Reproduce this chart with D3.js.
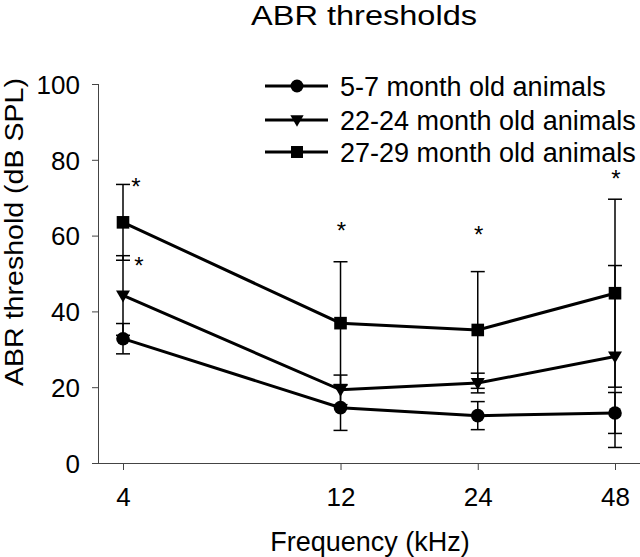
<!DOCTYPE html>
<html>
<head>
<meta charset="utf-8">
<script src="https://cdn.jsdelivr.net/npm/d3@7"></script>
<style>
  html, body { margin: 0; padding: 0; background: #fff; }
  svg { display: block; }
  text { font-family: "Liberation Sans", Arial, Helvetica, sans-serif; fill: #000; }
</style>
</head>
<body>
<svg id="chart" width="640" height="557"></svg>
<script>
// ---- data ----
const frequencies = [4, 12, 24, 48];
const seriesNames = ["5-7 month old animals", "22-24 month old animals", "27-29 month old animals"];
const seriesSymbols = ["circle", "triangle", "square"];
const young = [32.8, 14.6, 12.5, 13.2];
const youngErr = [4.0, 6.0, 3.7, 5.4];
const middle = [44.2, 19.3, 21.1, 28.1];
const middleErr = [10.5, 3.9, 2.6, 24.0];
const old = [63.5, 36.9, 35.1, 44.8];
const oldErr = [10.0, 16.2, 15.4, 24.8];
const yTicks = [0, 20, 40, 60, 80, 100];
const starFreq = [4, 4, 12, 24, 48];
const starValue = [74.0, 53.0, 62.4, 61.3, 75.9];

// ---- layout ----
const svg = d3.select("#chart");
const x = d3.scaleLog().base(2).domain([4, 48]).range([123, 615]);
const y = d3.scaleLinear().domain([0, 100]).range([463, 84]);
const axisColor = "#444";

const series = [
  {name: seriesNames[0], sym: seriesSymbols[0], vals: young, err: youngErr},
  {name: seriesNames[1], sym: seriesSymbols[1], vals: middle, err: middleErr},
  {name: seriesNames[2], sym: seriesSymbols[2], vals: old, err: oldErr}
];

function drawSymbol(g, sym, cx, cy, scale) {
  const s = scale || 1;
  if (sym === "circle") {
    g.append("circle").attr("cx", cx).attr("cy", cy).attr("r", 6.8 * s).attr("fill", "#000");
  } else if (sym === "square") {
    const h = 6.3 * s;
    g.append("rect").attr("x", cx - h).attr("y", cy - h).attr("width", 2 * h).attr("height", 2 * h).attr("fill", "#000");
  } else {
    const w = 7 * s, t = 5 * s, b = 7 * s;
    g.append("path").attr("d", `M${cx - w},${cy - t}L${cx + w},${cy - t}L${cx},${cy + b}Z`).attr("fill", "#000");
  }
}

// Title
svg.append("text").attr("x", 364).attr("y", 25).attr("text-anchor", "middle")
  .attr("textLength", 226).attr("lengthAdjust", "spacingAndGlyphs")
  .style("font-size", "27px").text("ABR thresholds");

// Y axis
const yAxis = d3.axisLeft(y).tickValues(yTicks).tickSize(7).tickPadding(12).tickFormat(d3.format("d"));
const gy = svg.append("g").attr("transform", "translate(99,0)").call(yAxis);
gy.select(".domain").attr("stroke", axisColor).attr("d", `M-0.5,${y(100)}V${y(0)}`);
gy.selectAll(".tick line").attr("stroke", axisColor);
gy.selectAll(".tick text").style("font-size", "26px").attr("dy", "0.36em");

// X axis
const xAxis = d3.axisBottom(x).tickValues(frequencies).tickSize(7).tickPadding(18).tickFormat(d3.format("d"));
const gx = svg.append("g").attr("transform", `translate(0,${y(0)})`).call(xAxis);
gx.select(".domain").attr("stroke", axisColor).attr("d", `M99,0.5H640`);
gx.selectAll(".tick line").attr("stroke", axisColor);
gx.selectAll(".tick text").style("font-size", "26px");

// Axis titles
svg.append("text").attr("x", 370).attr("y", 551).attr("text-anchor", "middle")
  .style("font-size", "27px").text("Frequency (kHz)");
svg.append("text").attr("transform", "translate(23,232) rotate(-90)").attr("text-anchor", "middle")
  .attr("textLength", 308).attr("lengthAdjust", "spacingAndGlyphs")
  .style("font-size", "25px").text("ABR threshold (dB SPL)");

// Error bars
const eb = svg.append("g");
series.forEach(s => {
  frequencies.forEach((f, i) => {
    const cx = x(f), hi = y(s.vals[i] + s.err[i]), lo = y(Math.max(0, s.vals[i] - s.err[i]));
    eb.append("line").attr("x1", cx).attr("x2", cx).attr("y1", hi).attr("y2", lo).attr("stroke", "#000").attr("stroke-width", 1.5);
    [hi, lo].forEach(yy => eb.append("line").attr("x1", cx - 7).attr("x2", cx + 7).attr("y1", yy).attr("y2", yy).attr("stroke", "#000").attr("stroke-width", 1.5));
  });
});

// Lines + markers
const line = d3.line().x((d, i) => x(frequencies[i])).y(d => y(d));
series.forEach(s => {
  svg.append("path").datum(s.vals).attr("d", line).attr("fill", "none").attr("stroke", "#000").attr("stroke-width", 3);
  const g = svg.append("g");
  s.vals.forEach((v, i) => drawSymbol(g, s.sym, x(frequencies[i]), y(v)));
});

// Asterisks
starFreq.forEach((f, i) => {
  const dx = f === 4 ? (i === 0 ? 13 : 16) : 1;
  svg.append("text").attr("x", x(f) + dx).attr("y", y(starValue[i]) + 12)
    .attr("text-anchor", "middle").style("font-size", "24px").text("*");
});

// Legend
const legendY = [86, 120, 152];
const lg = svg.append("g");
series.forEach((s, i) => {
  lg.append("line").attr("x1", 265).attr("x2", 328).attr("y1", legendY[i]).attr("y2", legendY[i]).attr("stroke", "#000").attr("stroke-width", 3);
  drawSymbol(lg, s.sym, 297, legendY[i], 0.95);
  lg.append("text").attr("x", 340).attr("y", legendY[i] + 10).style("font-size", "27px").text(s.name);
});
</script>
</body>
</html>
